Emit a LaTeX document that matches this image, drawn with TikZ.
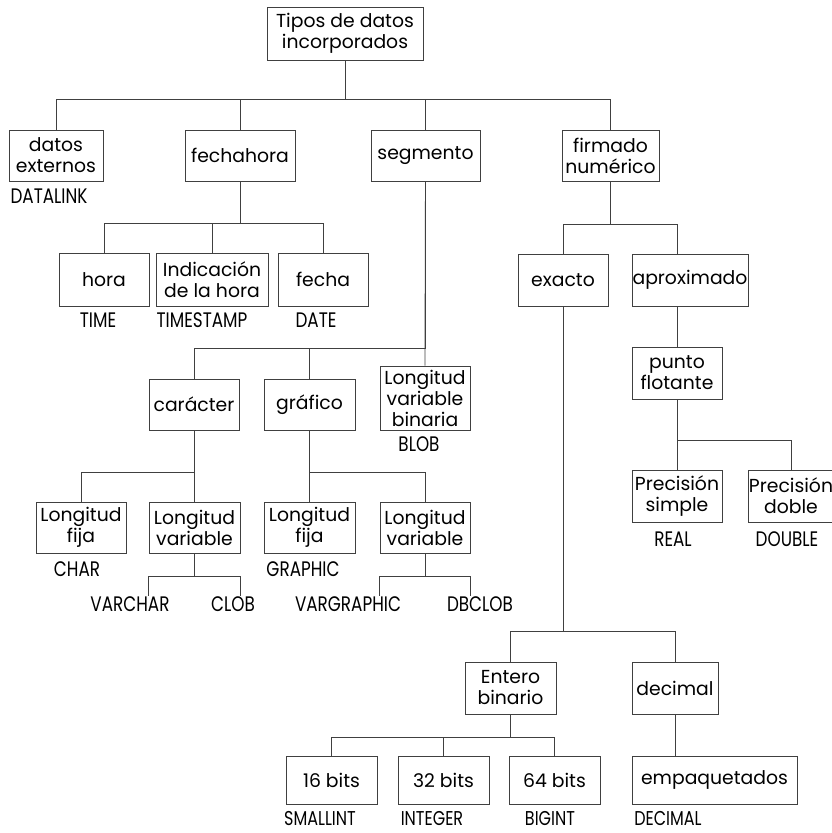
\documentclass[tikz,border=0pt]{standalone}
\usepackage{fontspec}
\setmainfont{Poppins}
\newfontfamily\etiqfont[FakeStretch=0.8]{Poppins}
\usepackage{tikz}
\tikzset{linea/.style={draw=black!75, line width=0.9pt}}

\begin{document}
\begin{tikzpicture}[x=1pt,y=-1pt,
          caja/.style={rectangle,draw=black!75,line width=0.9pt,inner sep=0pt,align=center,
            minimum width=90pt,minimum height=51pt,font=\fontsize{18.8}{21}\selectfont},
          etiq/.style={inner sep=0pt,font=\etiqfont\fontsize{21}{22}\selectfont}]
        \clip (0,0) rectangle (832,833);
        % nivel 0 y 1
        \node [caja,minimum width=156pt,minimum height=53pt] (raiz) at (345,33.5) {Tipos de datos\\incorporados};
        \node [caja,minimum width=94pt] (dext) at (56,155.5) {datos\\externos};
        \node [caja,minimum width=110pt] (fh) at (240,155.5) {fechahora};
        \node [caja,minimum width=109pt] (seg) at (425.5,155.5) {segmento};
        \node [caja,minimum width=97pt] (firm) at (610.5,155.5) {firmado\\numérico};
        % fechahora
        \node [caja,minimum height=53pt] (hora) at (104,279.5) {hora};
        \node [caja,minimum width=112pt,minimum height=53pt] (indic) at (212,279.5) {Indicación\\de la hora};
        \node [caja,minimum height=53pt] (fecha) at (323,279.5) {fecha};
        % segmento
        \node [caja] (car) at (194,404.5) {carácter};
        \node [caja,minimum width=91pt] (graf) at (309.5,404.5) {gráfico};
        \node [caja,minimum height=64pt] (blob) at (425,398) {Longitud\\variable\\binaria};
        \node [caja] (cfija) at (81,527.5) {Longitud\\fija};
        \node [caja,minimum width=91pt] (cvar) at (194.5,527.5) {Longitud\\variable};
        \node [caja,minimum width=91pt] (gfija) at (309.5,527.5) {Longitud\\fija};
        \node [caja] (gvar) at (425,527.5) {Longitud\\variable};
        % firmado
        \node [caja,minimum height=52pt] (exacto) at (563,280) {exacto};
        \node [caja,minimum width=116pt,minimum height=52pt] (aprox) at (690,280) {aproximado};
        \node [caja,minimum height=52pt] (punto) at (677,373) {punto\\flotante};
        \node [caja,minimum height=52pt] (psimple) at (677,496) {Precisión\\simple};
        \node [caja,minimum width=86pt,minimum height=52pt] (pdoble) at (791,496) {Precisión\\doble};
        \node [caja,minimum width=91pt,minimum height=52pt] (ent) at (510.5,688) {Entero\\binario};
        \node [caja,minimum width=86pt,minimum height=52pt] (dec) at (675,688) {decimal};
        \node [caja,minimum width=91pt,minimum height=48pt] (b16) at (331.5,780) {16 bits};
        \node [caja,minimum width=91pt,minimum height=48pt] (b32) at (443.5,780) {32 bits};
        \node [caja,minimum width=91pt,minimum height=48pt] (b64) at (554.5,780) {64 bits};
        \node [caja,minimum width=165pt,minimum height=48pt] (emp) at (714.5,780) {empaquetados};
        % etiquetas
        \node [etiq] (datalink) at (49,196) {DATALINK};
        \node [etiq] (time) at (98,320) {TIME};
        \node [etiq] (timestamp) at (202,320) {TIMESTAMP};
        \node [etiq] (date) at (316,320) {DATE};
        \node [etiq] (blobt) at (419,444) {BLOB};
        \node [etiq] (char) at (77,569) {CHAR};
        \node [etiq] (graphic) at (303,569) {GRAPHIC};
        \node [etiq] (varchar) at (130,604) {VARCHAR};
        \node [etiq] (clob) at (233,604) {CLOB};
        \node [etiq] (vargraphic) at (348,604) {VARGRAPHIC};
        \node [etiq] (dbclob) at (480,604) {DBCLOB};
        \node [etiq] (real) at (673,539) {REAL};
        \node [etiq] (double) at (787,539) {DOUBLE};
        \node [etiq,font=\etiqfont\fontsize{20}{21}\selectfont] (smallint) at (320,818.5) {SMALLINT};
        \node [etiq,font=\etiqfont\fontsize{20}{21}\selectfont] (integer) at (432,818.5) {INTEGER};
        \node [etiq,font=\etiqfont\fontsize{20}{21}\selectfont] (bigint) at (550,818.5) {BIGINT};
        \node [etiq,font=\etiqfont\fontsize{20}{21}\selectfont] (decimalt) at (668,818.5) {DECIMAL};
        % conexiones
        \foreach \h in {dext,fh,seg,firm}
          \draw [linea] (raiz.south) -- ++(0,39) -| (\h.north);
        \foreach \h in {hora,indic,fecha}
          \draw [linea] (fh.south) -- ++(0,42) -| (\h.north);
        \draw [linea] (seg.south) -- (blob.north);
        \foreach \h in {car,graf}
          \draw [linea] (seg.south) -- ++(0,167) -| (\h.north);
        \foreach \h in {cfija,cvar}
          \draw [linea] (car.south) -- ++(0,42) -| (\h.north);
        \foreach \h in {gfija,gvar}
          \draw [linea] (graf.south) -- ++(0,42) -| (\h.north);
        \draw [linea] (cvar.south) -- ++(0,23) -| (varchar.north -| cvar.west);
        \draw [linea] (cvar.south) -- ++(0,23) -| (clob.north -| cvar.east);
        \draw [linea] (gvar.south) -- ++(0,23) -| (vargraphic.north -| gvar.west);
        \draw [linea] (gvar.south) -- ++(0,23) -| (dbclob.north -| gvar.east);
        \draw [linea] (firm.south) -- ++(0,43) -| (exacto.north);
        \draw [linea] (firm.south) -- ++(0,43) -| (aprox.north -| punto);
        \draw [linea] (aprox.south -| punto) -- (punto.north);
        \draw [linea] (punto.south) -- (psimple.north);
        \draw [linea] (punto.south) -- ++(0,41) -| (pdoble.north);
        \foreach \h in {ent,dec}
          \draw [linea] (exacto.south) -- ++(0,325) -| (\h.north);
        \foreach \h in {b16,b32,b64}
          \draw [linea] (ent.south) -- ++(0,23) -| (\h.north);
        \draw [linea] (dec.south) -- (dec.south |- emp.north);
      \end{tikzpicture}
\end{document}
